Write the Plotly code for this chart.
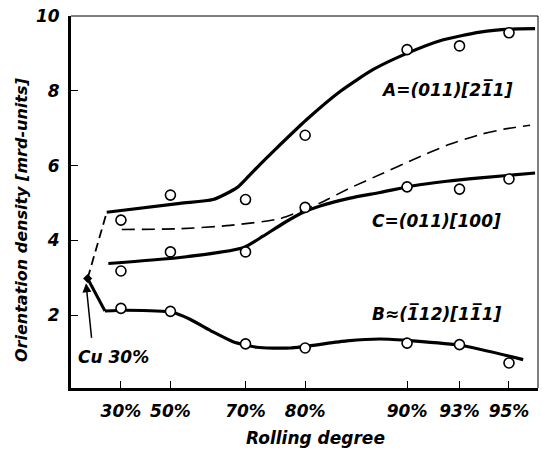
import numpy as np
import plotly.graph_objects as go

# ---------------- data ----------------
rolling_deg = [30, 50, 70, 80, 90, 93, 95]          # rolling degree (%)
tick_labels = ["30%", "50%", "70%", "80%", "90%", "93%", "95%"]
# measured points (open circles)
pts_A = [4.54, 5.21, 5.09, 6.81, 9.10, 9.20, 9.55]
pts_C = [3.18, 3.69, 3.69, 4.88, 5.43, 5.37, 5.64]
pts_B = [2.18, 2.10, 1.23, 1.12, 1.25, 1.21, 0.72]

# starting material Cu 30% (x in true-strain units)
cu_x, cu_y = 0.130, 2.98

# hand-drawn curves, x in true strain -ln(1-eps)
curve_A_x = [0.260, 0.758, 0.983, 1.146, 1.214, 1.300, 1.393, 1.620, 1.847, 2.073, 2.301, 2.527, 2.799, 3.003, 3.173]
curve_A_y = [4.75, 4.99, 5.09, 5.41, 5.67, 6.02, 6.38, 7.23, 7.98, 8.57, 9.00, 9.34, 9.57, 9.65, 9.66]
curve_C_x = [0.271, 0.758, 1.187, 1.323, 1.459, 1.597, 1.711, 1.915, 2.119, 2.346, 2.573, 2.799, 3.173]
curve_C_y = [3.38, 3.54, 3.80, 4.11, 4.45, 4.75, 4.92, 5.13, 5.28, 5.46, 5.58, 5.67, 5.80]
curve_B_x = [0.248, 0.391, 0.709, 0.826, 0.983, 1.119, 1.280, 1.507, 1.893, 2.119, 2.343, 2.683, 3.092]
curve_B_y = [2.11, 2.13, 2.07, 1.89, 1.55, 1.29, 1.14, 1.12, 1.31, 1.36, 1.31, 1.18, 0.81]
curve_D_x = [0.362, 0.758, 1.099, 1.439, 1.711, 1.915, 2.119, 2.346, 2.573, 2.799, 2.970, 3.139]
curve_D_y = [4.29, 4.31, 4.40, 4.58, 5.00, 5.40, 5.76, 6.16, 6.54, 6.83, 6.98, 7.08]

x_deg = [-np.log(1 - d / 100.0) for d in rolling_deg]

FONT = "DejaVu Sans"
fig = go.Figure()

thick = dict(color="black", width=3.2, shape="spline", smoothing=0.6)
fig.add_trace(go.Scatter(x=curve_A_x, y=curve_A_y, mode="lines", line=thick))
fig.add_trace(go.Scatter(x=curve_C_x, y=curve_C_y, mode="lines", line=thick))
fig.add_trace(go.Scatter(x=curve_B_x, y=curve_B_y, mode="lines", line=thick))
fig.add_trace(go.Scatter(x=curve_D_x, y=curve_D_y, mode="lines",
                         line=dict(color="black", width=1.6, dash="13px,7px", shape="spline", smoothing=0.6)))
# connection from Cu 30 %
fig.add_trace(go.Scatter(x=[cu_x, curve_A_x[0]], y=[cu_y, curve_A_y[0]], mode="lines",
                         line=dict(color="black", width=1.8, dash="9px,5px")))
fig.add_trace(go.Scatter(x=[cu_x, curve_B_x[0]], y=[cu_y, curve_B_y[0]], mode="lines",
                         line=dict(color="black", width=3.0)))
fig.add_trace(go.Scatter(x=[cu_x], y=[cu_y], mode="markers",
                         marker=dict(color="black", size=7, symbol="diamond")))

circ = dict(symbol="circle", size=10, color="white", line=dict(color="black", width=1.6))
for ys in (pts_A, pts_C, pts_B):
    fig.add_trace(go.Scatter(x=x_deg, y=ys, mode="markers", marker=circ))

lab = dict(family=FONT, size=17, color="black", weight="bold", style="italic")
fig.add_annotation(x=2.573, y=8.03, text="A=(011)[21\u03051]", showarrow=False, font=lab)
fig.add_annotation(x=2.505, y=4.51, text="C=(011)[100]", showarrow=False, font=lab)
fig.add_annotation(x=2.505, y=2.03, text="B\u2248(1\u030512)[11\u03051]", showarrow=False, font=lab)
fig.add_annotation(x=0.305, y=0.87, text="Cu 30%", showarrow=False, font=lab)
fig.add_annotation(x=0.119, y=2.85, ax=0.158, ay=1.35, axref="x", ayref="y", text="",
                   showarrow=True, arrowhead=2, arrowsize=1.2, arrowwidth=1.5, arrowcolor="black")

# axis titles placed as annotations (paper coordinates)
fig.add_annotation(xref="paper", yref="paper", x=(315 - 71) / 467, y=-(438 - 388) / 372,
                   text="Rolling degree", showarrow=False, font=lab,
                   xanchor="center", yanchor="middle")
fig.add_annotation(xref="paper", yref="paper", x=(22 - 71) / 467, y=(388 - 220) / 372,
                   text="Orientation density [mrd-units]", showarrow=False, textangle=-90,
                   font=dict(family=FONT, size=16, color="black", weight="bold", style="italic"),
                   xanchor="center", yanchor="middle")

# thin top and right border
fig.add_shape(type="line", xref="paper", yref="paper", x0=0, x1=1, y0=1, y1=1,
              line=dict(color="black", width=1))
fig.add_shape(type="line", xref="paper", yref="paper", x0=1, x1=1, y0=0, y1=1,
              line=dict(color="black", width=1))

tickfont = dict(family=FONT, size=17, color="black", weight="bold", style="italic")
fig.update_layout(
    width=542, height=462,
    margin=dict(l=71, r=4, t=16, b=74),
    paper_bgcolor="white", plot_bgcolor="white",
    showlegend=False,
    xaxis=dict(range=[0.017, 3.193], tickvals=x_deg, ticktext=tick_labels,
               ticks="inside", ticklen=7, tickwidth=1.2, tickcolor="black",
               showline=True, linewidth=3, linecolor="black", mirror=False,
               showgrid=False, zeroline=False, tickfont=tickfont, ticklabelstandoff=6),
    yaxis=dict(range=[0.05, 10], tickvals=[2, 4, 6, 8, 10],
               ticks="inside", ticklen=7, tickwidth=1.2, tickcolor="black",
               showline=True, linewidth=3, linecolor="black", mirror=False,
               showgrid=False, zeroline=False, tickfont=tickfont, ticklabelstandoff=5),
)

fig.write_html("out.html")
